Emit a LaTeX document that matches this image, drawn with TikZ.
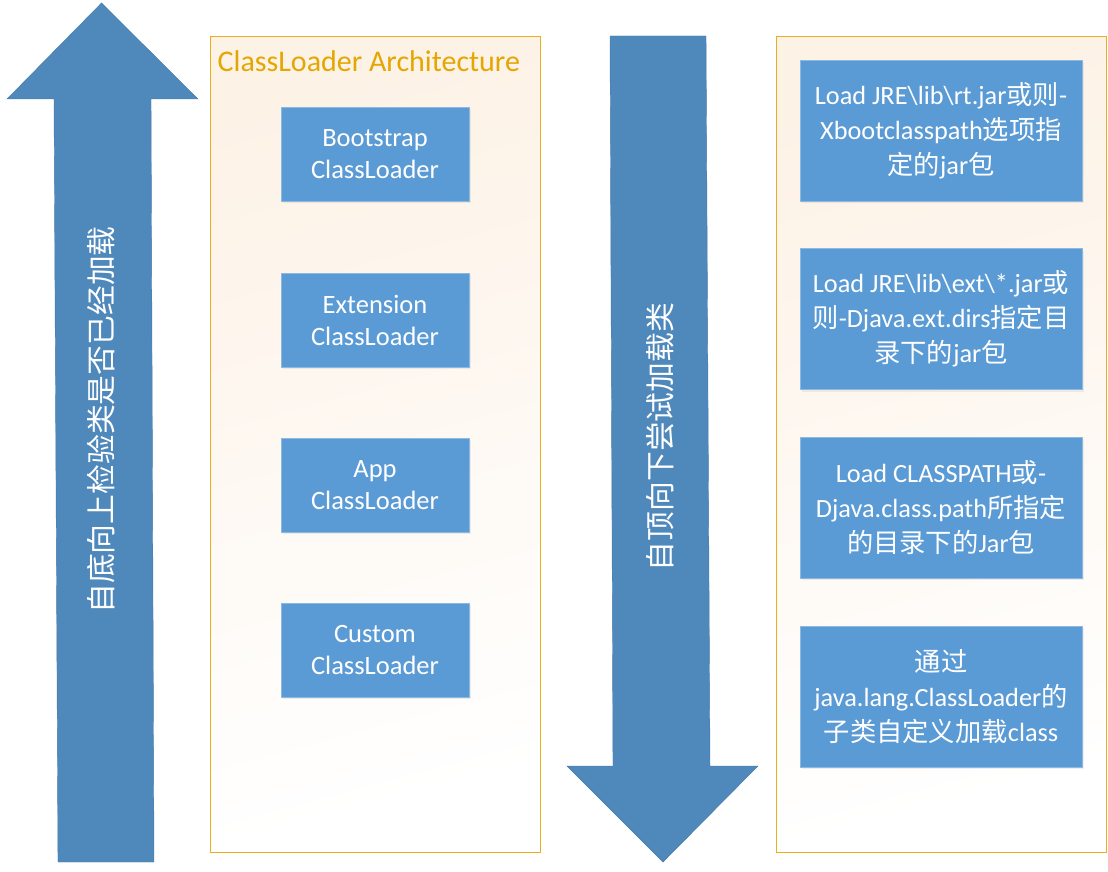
\documentclass[tikz,border=0pt]{standalone}
\usepackage{fontspec}
\setmainfont{Carlito}
\newfontfamily\cjk{Noto Sans CJK SC}
\usetikzlibrary{shadows}
\definecolor{arrowblue}{RGB}{79,136,187}
\definecolor{boxblue}{RGB}{91,155,213}
\definecolor{frameorange}{RGB}{232,176,30}
\definecolor{titleorange}{RGB}{228,166,0}
\definecolor{peach}{RGB}{253,242,230}
\tikzset{
  bigarrow/.style={fill=arrowblue, draw=arrowblue!90!black, line width=0.4pt},
  frame/.style={draw=frameorange, line width=1pt, shading=axis, top color=peach, bottom color=white, shading angle=15},
  loaderbox/.style={fill=boxblue, draw=boxblue!70!white, line width=0.8pt, text=white, align=center, minimum width=188pt, minimum height=94pt, inner sep=0pt, font=\fontsize{26.5}{32}\selectfont, drop shadow={opacity=0.12, shadow xshift=1.5pt, shadow yshift=-2pt}},
  pathbox/.style={fill=boxblue, draw=boxblue!70!white, line width=0.8pt, text=white, align=center, minimum width=282pt, minimum height=141pt, inner sep=0pt, font=\fontsize{26.3}{35}\selectfont, drop shadow={opacity=0.12, shadow xshift=1.5pt, shadow yshift=-2pt}},
  arrowtext/.style={text=white, rotate=90, font=\cjk\fontsize{29.8}{32}\selectfont, inner sep=0pt}
}
\begin{document}
\begin{tikzpicture}[x=1pt,y=-1pt]
\useasboundingbox (0,0) rectangle (1108,872);
% up arrow
\path[bigarrow] (101.5,3) -- (198,99) -- (151,99) -- (154,862) -- (58,862) -- (54,99) -- (7,99) -- cycle;
\node[arrowtext] (uptext) at (101,420) {自底向上检验类是否已经加载};
% middle frame
\node[frame, minimum width=330pt, minimum height=815pt, inner sep=0pt] (midframe) at (375,444.5) {};
\node[anchor=west, text=titleorange, font=\fontsize{30}{32}\selectfont, inner sep=0pt] (title) at (217.5,61) {ClassLoader Architecture};
\node[loaderbox] (boot) at (375,154) {Bootstrap\\ClassLoader};
\node[loaderbox] (ext) at (375,320) {Extension\\ClassLoader};
\node[loaderbox] (app) at (375,485) {App\\ClassLoader};
\node[loaderbox] (cust) at (375,650) {Custom\\ClassLoader};
% down arrow
\path[bigarrow] (610,36) -- (706,36) -- (710,766) -- (758,766) -- (663,862) -- (567,766) -- (613,766) -- cycle;
\node[arrowtext] (downtext) at (660,437) {自顶向下尝试加载类};
% right frame
\node[frame, minimum width=330pt, minimum height=815pt, inner sep=0pt] (rightframe) at (941,444.5) {};
\node[pathbox] (p1) at (941,130.5) {Load JRE\textbackslash lib\textbackslash rt.jar{\cjk 或则}-\\Xbootclasspath{\cjk 选项指}\\{\cjk 定的}jar{\cjk 包}};
\node[pathbox] (p2) at (941,319) {Load JRE\textbackslash lib\textbackslash ext\textbackslash*.jar{\cjk 或}\\{\cjk 则}-Djava.ext.dirs{\cjk 指定目}\\{\cjk 录下的}jar{\cjk 包}};
\node[pathbox] (p3) at (941,507.5) {Load CLASSPATH{\cjk 或}-\\Djava.class.path{\cjk 所指定}\\{\cjk 的目录下的}Jar{\cjk 包}};
\node[pathbox] (p4) at (941,696.5) {{\cjk 通过}\\java.lang.ClassLoader{\cjk 的}\\{\cjk 子类自定义加载}class};
\end{tikzpicture}
\end{document}
